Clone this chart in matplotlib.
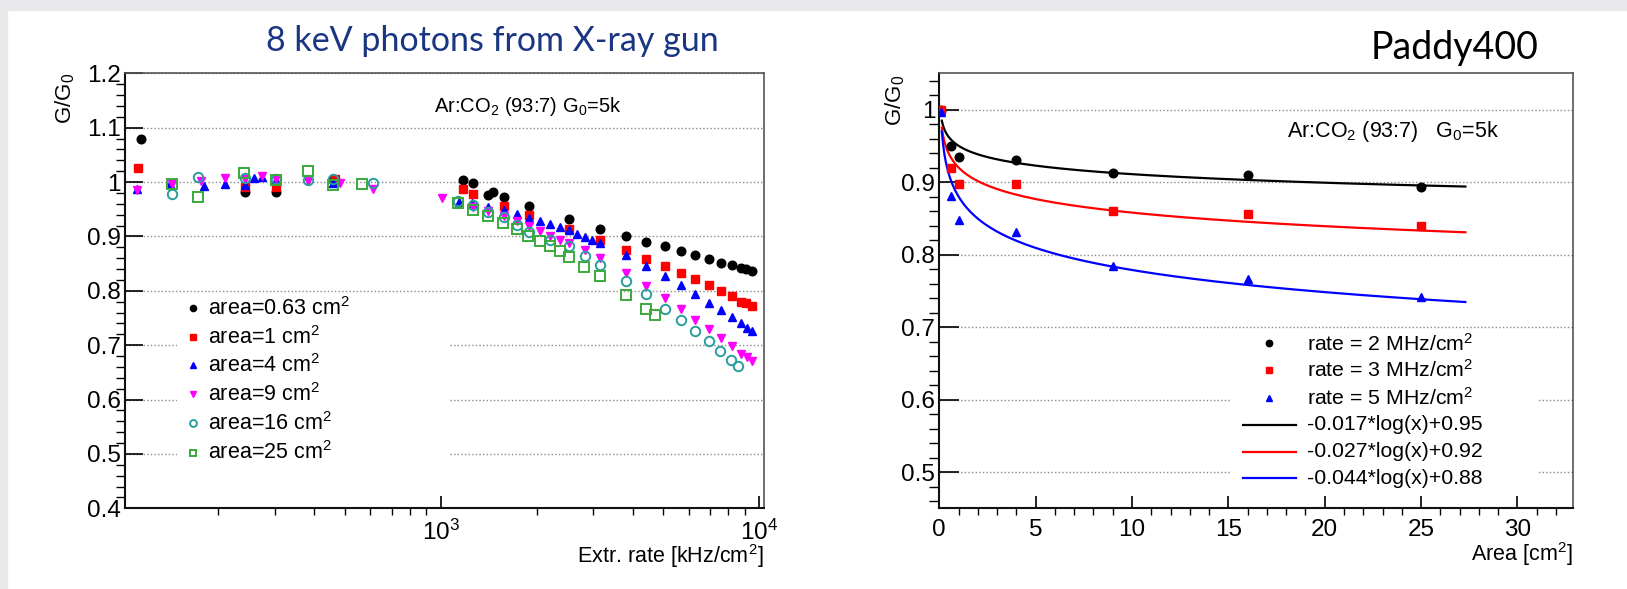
import numpy as np
import matplotlib.pyplot as plt
from matplotlib.ticker import MultipleLocator, FuncFormatter, NullFormatter, LogLocator
from matplotlib.patches import Rectangle
from matplotlib.lines import Line2D

plt.rcParams['font.family'] = ['Liberation Sans', 'DejaVu Sans']
plt.rcParams['mathtext.fontset'] = 'custom'
plt.rcParams['mathtext.rm'] = 'Liberation Sans'
plt.rcParams['mathtext.it'] = 'Liberation Sans:italic'

# --- left panel: gain vs extracted rate, one series per irradiated area ---
area_labels = ["area=0.63 cm$^2$", "area=1 cm$^2$", "area=4 cm$^2$",
               "area=9 cm$^2$", "area=16 cm$^2$", "area=25 cm$^2$"]

rate_063 = [114, 243, 303, 458, 1175, 1257, 1407, 1452, 1576, 1892, 2524, 3148, 3802,
            4413, 5038, 5684, 6300, 6937, 7585, 8191, 8765, 9087, 9481]
gain_063 = [1.079, 0.982, 0.982, 1.004, 1.004, 0.999, 0.976, 0.981, 0.972, 0.956, 0.932,
            0.913, 0.900, 0.890, 0.882, 0.873, 0.866, 0.859, 0.852, 0.847, 0.842, 0.840, 0.837]

rate_1 = [112, 243, 303, 465, 1175, 1263, 1576, 1892, 2524, 3148, 3802, 4413, 5038,
          5684, 6300, 6937, 7585, 8191, 8765, 9087, 9481]
gain_1 = [1.026, 0.990, 0.990, 1.006, 0.987, 0.978, 0.956, 0.939, 0.913, 0.893, 0.875,
          0.859, 0.845, 0.833, 0.821, 0.810, 0.800, 0.791, 0.780, 0.777, 0.772]

rate_4 = [111, 141, 180, 209, 243, 259, 274, 303, 459, 1142, 1248, 1407, 1576, 1727,
          1892, 2043, 2207, 2372, 2524, 2683, 2844, 2991, 3148, 3802, 4413, 5038, 5684,
          6300, 6937, 7585, 8191, 8765, 9150, 9500]
gain_4 = [0.987, 0.997, 0.993, 0.997, 0.994, 1.007, 1.009, 1.004, 0.999, 0.964, 0.961,
          0.955, 0.948, 0.942, 0.934, 0.928, 0.923, 0.917, 0.912, 0.904, 0.899, 0.894,
          0.888, 0.866, 0.846, 0.827, 0.810, 0.794, 0.778, 0.764, 0.751, 0.740, 0.732, 0.726]

rate_9 = [111, 143, 176, 209, 243, 274, 303, 381, 482, 613, 1005, 1257, 1407, 1576,
          1727, 1892, 2043, 2207, 2372, 2524, 2844, 3148, 3802, 4413, 5038, 5684, 6300,
          6937, 7585, 8191, 8765, 9150, 9481]
gain_9 = [0.985, 0.996, 1.002, 1.007, 1.005, 1.011, 1.005, 1.002, 0.999, 0.988, 0.970,
          0.955, 0.947, 0.937, 0.928, 0.919, 0.910, 0.901, 0.894, 0.887, 0.875, 0.861,
          0.832, 0.809, 0.787, 0.767, 0.746, 0.729, 0.714, 0.698, 0.684, 0.678, 0.671]

rate_16 = [143, 172, 243, 303, 381, 459, 613, 1133, 1257, 1407, 1576, 1727, 1892, 2207,
           2524, 2826, 3148, 3802, 4413, 5038, 5684, 6300, 6937, 7530, 8140, 8600]
gain_16 = [0.978, 1.009, 1.007, 1.005, 1.004, 1.005, 0.999, 0.965, 0.958, 0.945, 0.936,
           0.921, 0.908, 0.894, 0.882, 0.864, 0.847, 0.818, 0.795, 0.767, 0.746, 0.726,
           0.707, 0.689, 0.672, 0.661]

rate_25 = [143, 172, 241, 303, 382, 459, 564, 1133, 1257, 1407, 1567, 1727, 1879, 2043,
           2207, 2360, 2524, 2806, 3148, 3802, 4393, 4720]
gain_25 = [0.996, 0.973, 1.017, 1.003, 1.020, 0.994, 0.996, 0.961, 0.948, 0.937, 0.924,
           0.913, 0.901, 0.891, 0.882, 0.873, 0.862, 0.844, 0.827, 0.793, 0.767, 0.755]

# --- right panel: gain vs area at fixed rate, with log fits ---
areas = [0.1, 0.63, 1, 4, 9, 16, 25]
gain_2MHz = [1.0, 0.950, 0.935, 0.930, 0.913, 0.9095, 0.893]
gain_3MHz = [1.0, 0.920, 0.898, 0.898, 0.860, 0.856, 0.839]
gain_5MHz = [0.997, 0.881, 0.848, 0.831, 0.784, 0.766, 0.741]
rate_labels = ["rate = 2 MHz/cm$^2$", "rate = 3 MHz/cm$^2$", "rate = 5 MHz/cm$^2$"]
fit_slope = [-0.017, -0.027, -0.044]
fit_const = [0.95, 0.92, 0.88]
fit_labels = ["-0.017*log(x)+0.95", "-0.027*log(x)+0.92", "-0.044*log(x)+0.88"]

W, H = 1627, 589
fig = plt.figure(figsize=(W / 100, H / 100), dpi=100)
fig.patches.append(Rectangle((0, 1 - 10 / H), 1, 10 / H, transform=fig.transFigure,
                             color='#e9e9ec', zorder=-10))
fig.patches.append(Rectangle((0, 0), 7 / W, 1, transform=fig.transFigure,
                             color='#e9e9ec', zorder=-10))

bot, top = 508.3, 73.3
ax1 = fig.add_axes([125 / W, (H - bot) / H, (764.3 - 125) / W, (bot - top) / H])
ax2 = fig.add_axes([939.3 / W, (H - bot) / H, (1573.3 - 939.3) / W, (bot - top) / H])

fmt = FuncFormatter(lambda v, p: '%g' % round(v, 3))


def style_frame(ax):
    for side in ['left', 'bottom']:
        ax.spines[side].set_linewidth(1.5)
        ax.spines[side].set_color('#111111')
    for side in ['top', 'right']:
        ax.spines[side].set_linewidth(1.2)
        ax.spines[side].set_color('#555555')
    ax.set_axisbelow(True)
    ax.yaxis.grid(True, which='major', linestyle=(0, (1, 1.6)), color='#8a8a8a', lw=1.0)
    ax.xaxis.grid(False)
    ax.yaxis.set_major_formatter(fmt)
    ax.tick_params(labelsize=17.5, width=1.2, direction='in', top=False, right=False)


# left panel
ax1.set_xscale('log')
ax1.set_xlim(101.7, 10370)
ax1.set_ylim(0.4, 1.2)
style_frame(ax1)
ax1.yaxis.set_major_locator(MultipleLocator(0.1))
ax1.yaxis.set_minor_locator(MultipleLocator(0.02))
ax1.xaxis.set_minor_locator(LogLocator(base=10, subs=np.arange(2, 10)))
ax1.xaxis.set_minor_formatter(NullFormatter())
ax1.tick_params(axis='y', which='major', length=13, pad=3)
ax1.tick_params(axis='y', which='minor', length=6.5, width=1.0)
ax1.tick_params(axis='x', which='major', length=9, pad=8)
ax1.tick_params(axis='x', which='minor', length=5, width=1.0)

series = [
    (rate_063, gain_063, dict(marker='o', color='black', ms=6.2, ls='none')),
    (rate_1, gain_1, dict(marker='s', color='#ff0000', ms=5.6, ls='none')),
    (rate_4, gain_4, dict(marker='^', color='#0000ff', ms=6.2, ls='none')),
    (rate_9, gain_9, dict(marker='v', color='#ff00ff', ms=6.2, ls='none')),
    (rate_16, gain_16, dict(marker='o', color='#2a9d9d', mfc='none', mew=1.4, ms=6.8, ls='none')),
    (rate_25, gain_25, dict(marker='s', color='#3aaa3a', mfc='none', mew=1.4, ms=6.6, ls='none')),
]
for x, y, kw in series:
    ax1.plot(x, y, zorder=3, clip_on=False, **kw)

ax1.add_patch(Rectangle((0.081, 0.088), 0.427, 0.402, transform=ax1.transAxes,
                        facecolor='white', edgecolor='none', zorder=1))
rows1 = [0.460, 0.393, 0.329, 0.262, 0.195, 0.128]
for (x, y, kw), lab, ry in zip(series, area_labels, rows1):
    kw2 = dict(kw)
    kw2['ms'] = kw['ms'] * 0.72
    ax1.add_line(Line2D([0.107], [ry], transform=ax1.transAxes, zorder=4, **kw2))
    ax1.text(0.13, ry, lab, transform=ax1.transAxes, fontsize=15.5, va='center', zorder=4)

ax1.text((434 - 125) / 639.3, (bot - 112) / 435, r"Ar:CO$_\mathregular{2}$ (93:7) G$_\mathregular{0}$=5k",
         transform=ax1.transAxes, fontsize=14.5, va='baseline')

# right panel
ax2.set_xlim(0, 32.9)
ax2.set_ylim(0.45, 1.05)
style_frame(ax2)
ax2.xaxis.set_major_locator(MultipleLocator(5))
ax2.xaxis.set_minor_locator(MultipleLocator(1))
ax2.yaxis.set_major_locator(MultipleLocator(0.1))
ax2.yaxis.set_minor_locator(MultipleLocator(0.02))
ax2.xaxis.set_major_formatter(fmt)
ax2.tick_params(axis='y', which='major', length=14.5, pad=3)
ax2.tick_params(axis='y', which='minor', length=7, width=1.0)
ax2.tick_params(axis='x', which='major', length=9, pad=8)
ax2.tick_params(axis='x', which='minor', length=5, width=1.0)

colors = ['black', '#ff0000', '#0000ff']
markers = ['o', 's', '^']
gains = [gain_2MHz, gain_3MHz, gain_5MHz]
xf = np.linspace(0.13, 27.3, 400)
for g, c, m, a, b in zip(gains, colors, markers, fit_slope, fit_const):
    ax2.plot(areas, g, marker=m, color=c, ms=6.2, ls='none', zorder=4)
    ax2.plot(xf, a * np.log(xf) + b, color=c, lw=1.6, zorder=3)

ax2.add_patch(Rectangle((0.4585, 0.031), 0.486, 0.374, transform=ax2.transAxes,
                        facecolor='white', edgecolor='none', zorder=1))
rows2 = [0.379, 0.318, 0.253, 0.192, 0.130, 0.069]
for i in range(3):
    ax2.add_line(Line2D([0.5205], [rows2[i]], transform=ax2.transAxes, marker=markers[i],
                        color=colors[i], ms=4.6, ls='none', zorder=4))
    ax2.text(0.5804, rows2[i], rate_labels[i], transform=ax2.transAxes, fontsize=15.3,
             va='center', zorder=4)
for i in range(3):
    ax2.add_line(Line2D([0.4795, 0.5626], [rows2[3 + i]] * 2, transform=ax2.transAxes,
                        color=colors[i], lw=1.6, zorder=4))
    ax2.text(0.5804, rows2[3 + i], fit_labels[i], transform=ax2.transAxes, fontsize=15.3,
             va='center', zorder=4)

ax2.text((1286.7 - 939.3) / 634, (bot - 136.7) / 435,
         r"Ar:CO$_\mathregular{2}$ (93:7)   G$_\mathregular{0}$=5k",
         transform=ax2.transAxes, fontsize=15.5, va='baseline')

# axis titles, ROOT style at the axis ends
fig.text(65 / W, 1 - 73 / H, "G/G$_\mathregular{0}$", rotation=90, ha='center', va='top', fontsize=16)
fig.text(895 / W, 1 - 75 / H, "G/G$_\mathregular{0}$", rotation=90, ha='center', va='top', fontsize=16)
fig.text(764 / W, 1 - 556 / H, "Extr. rate [kHz/cm$^2$]", ha='right', va='center', fontsize=15.5)
fig.text(1573 / W, 1 - 554 / H, "Area [cm$^2$]", ha='right', va='center', fontsize=15.5)

# slide headings
fig.text(492 / W, 1 - 41 / H, "8 keV photons from X-ray gun", ha='center', va='center',
         fontsize=24.5, color='#1a3683', family=['Lato', 'DejaVu Sans'])
fig.text(1455 / W, 1 - 48 / H, "Paddy400", ha='center', va='center', fontsize=27,
         color='black', family=['Lato', 'DejaVu Sans'])

fig.savefig("out.png", dpi=100)
